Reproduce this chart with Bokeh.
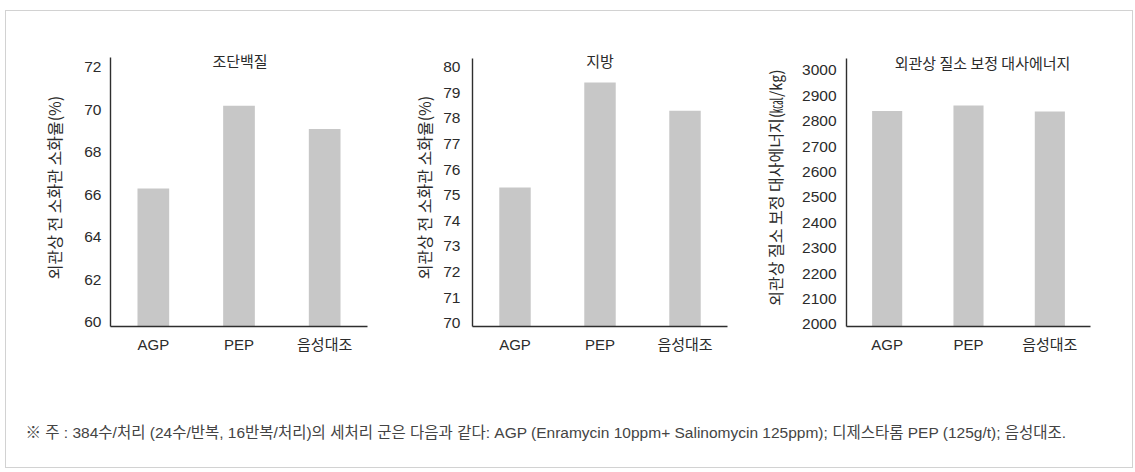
from bokeh.plotting import figure
from bokeh.models import FactorRange, Range1d, FixedTicker, Label
from bokeh.layouts import row, column
from bokeh.embed import file_html
from bokeh.resources import INLINE

# Treatment groups
groups = ["AGP", "PEP", "음성대조"]

# Apparent total tract digestibility (%) and AMEn (kcal/kg)
crude_protein = [66.3, 70.2, 69.1]
crude_fat = [75.3, 79.4, 78.3]
amen = [2840, 2862, 2838]

# Y-axis tick values per panel
protein_ticks = [60, 62, 64, 66, 68, 70, 72]
fat_ticks = [70, 71, 72, 73, 74, 75, 76, 77, 78, 79, 80]
amen_ticks = [2000, 2100, 2200, 2300, 2400, 2500, 2600, 2700, 2800, 2900, 3000]

# Panel titles and axis labels
titles = ["조단백질", "지방", "외관상 질소 보정 대사에너지"]
ylabels = ["외관상 전 소화관 소화율(%)", "외관상 전 소화관 소화율(%)",
           "외관상 질소 보정 대사에너지(㎉/㎏)"]

footnote = ("※ 주 : 384수/처리 (24수/반복, 16반복/처리)의 세처리 군은 다음과 같다: "
            "AGP (Enramycin 10ppm+ Salinomycin 125ppm); 디제스타롬 PEP (125g/t); 음성대조.")

KR = "Noto Sans CJK KR"
LATIN_KR = "'Liberation Sans', 'Noto Sans CJK KR'"
NUM = "Liberation Sans"
BAR = "#c7c7c7"
AXIS = "#2e2e2e"
TEXT = "#2b2b2b"


def panel(title, values, ticks, y_range, axis_top, ylabel, width, left, right,
          top, bottom, title_dx, title_dy, label_standoff, tick_standoff):
    y0, y1 = y_range
    p = figure(
        width=width, height=355,
        x_range=FactorRange(*groups, range_padding=0),
        y_range=Range1d(y0, y1),
        output_backend="svg", toolbar_location=None,
        min_border_left=left, min_border_right=right,
        min_border_top=top, min_border_bottom=bottom,
    )
    p.vbar(x=groups, top=values, bottom=y0, width=0.37,
           fill_color=BAR, line_color=None)

    p.xgrid.visible = False
    p.ygrid.visible = False
    p.outline_line_color = None
    p.background_fill_color = "white"
    p.border_fill_color = "white"

    for ax in (p.xaxis[0], p.yaxis[0]):
        ax.axis_line_color = AXIS
        ax.axis_line_width = 1.4
        ax.major_tick_line_color = None
        ax.minor_tick_line_color = None
        ax.major_tick_out = 0
        ax.major_tick_in = 0
        ax.major_label_text_color = TEXT

    p.xaxis.major_label_text_font = LATIN_KR
    p.xaxis.major_label_text_font_size = "15px"
    p.xaxis.major_label_standoff = 9

    p.yaxis.bounds = (y0, axis_top)
    p.yaxis.ticker = FixedTicker(ticks=ticks)
    p.yaxis.major_label_text_font = NUM
    p.yaxis.major_label_text_font_size = "15.5px"
    p.yaxis.major_label_standoff = tick_standoff
    p.yaxis.axis_label = ylabel
    p.yaxis.axis_label_text_font = KR
    p.yaxis.axis_label_text_font_size = "16px"
    p.yaxis.axis_label_text_font_style = "normal"
    p.yaxis.axis_label_text_color = TEXT
    p.yaxis.axis_label_standoff = label_standoff

    p.add_layout(Label(x=1.5, y=axis_top, x_offset=title_dx, y_offset=title_dy,
                       text=title, text_font=KR, text_font_size="15px",
                       text_color=TEXT, text_align="center",
                       text_baseline="middle"))
    return p


p1 = panel(titles[0], crude_protein, protein_ticks, (59.81, 72.89), 72.47,
           ylabels[0], 394, 104, 33, 35, 40, 1, -3, 15, 9)
p2 = panel(titles[1], crude_fat, fat_ticks, (69.87, 80.73), 80.34,
           ylabels[1], 360, 72, 33, 37, 39, 0, -2, 4, 12)
p3 = panel(titles[2], amen, amen_ticks, (1992, 3086), 3047,
           ylabels[2], 372, 83, 42, 37, 39, 14, -4, 12, 10)

foot = figure(width=1126, height=101, x_range=(0, 1), y_range=(0, 1),
              output_backend="svg", toolbar_location=None,
              x_axis_location=None, y_axis_location=None,
              min_border=0)
foot.xgrid.visible = False
foot.ygrid.visible = False
foot.outline_line_color = None
foot.add_layout(Label(x=19, y=101 - 66, x_units="screen", y_units="screen",
                      text=footnote, text_font=LATIN_KR, text_font_size="15.5px",
                      text_color="#444444", text_baseline="middle"))

layout = column(row(p1, p2, p3), foot, margin=(10, 0, 0, 5),
                styles={"border": "1px solid #d2d2d2"})

open("out.html", "w").write(file_html(layout, INLINE))
